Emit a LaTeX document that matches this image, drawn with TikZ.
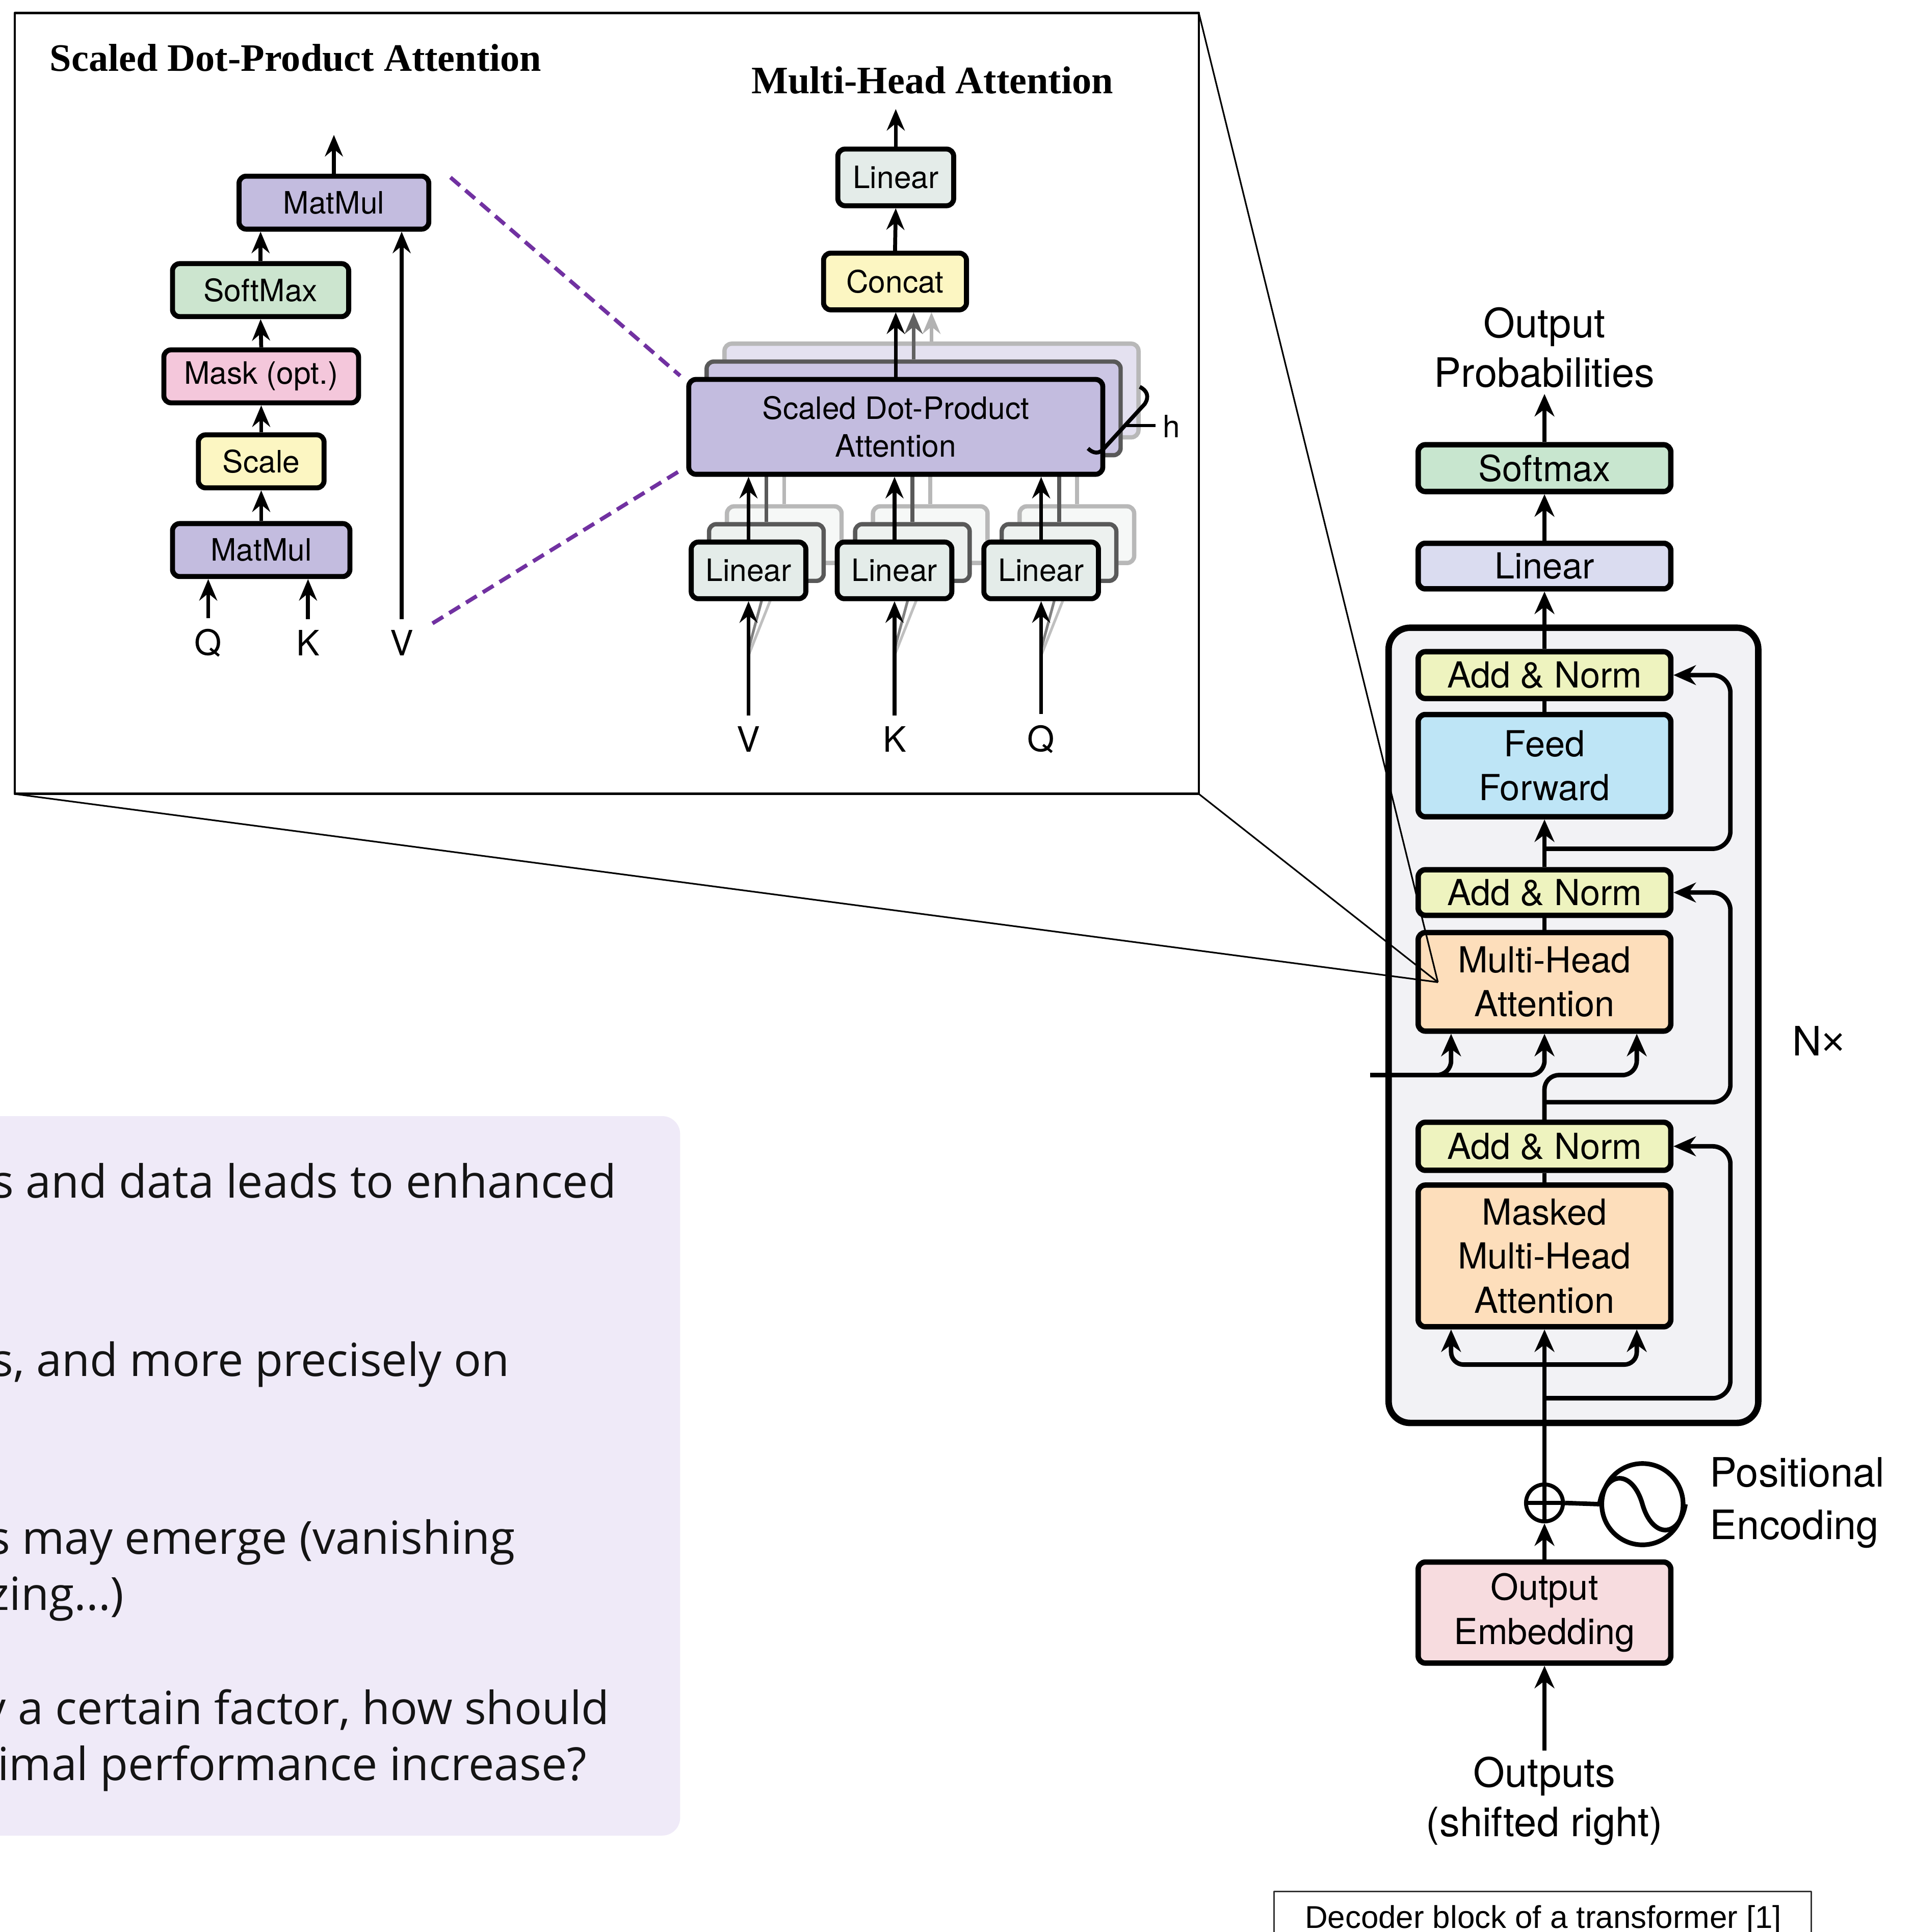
\documentclass[tikz,border=0pt]{standalone}
\usepackage{fontspec}
\setmainfont{TeX Gyre Heros}
\newfontfamily\ttlfam{Liberation Serif}
\newfontfamily\bodyfam{Open Sans}
\newfontfamily\capfam{Liberation Sans}
\usetikzlibrary{arrows.meta,calc}

% one drawing unit
\newcommand\sunit{0.024173cm}
% type sizes
\newcommand\fntA{\fontsize{17.2pt}{21pt}\selectfont}
\newcommand\fntB{\fontsize{20pt}{24.6pt}\selectfont}
\newcommand\fntC{\fontsize{22.6pt}{27.7pt}\selectfont}
\newcommand\fntQ{\fontsize{19.5pt}{23pt}\selectfont}
\newcommand\fntT{\ttlfam\bfseries\fontsize{21.7pt}{26pt}\selectfont}
\newcommand\fntP{\bodyfam\fontsize{25.5pt}{31pt}\selectfont}
\newcommand\fntCap{\capfam\fontsize{17.6pt}{21pt}\selectfont}

\definecolor{cMat}{HTML}{C3BCDF}
\definecolor{cMatM}{HTML}{CCC6E4}
\definecolor{cMatB}{HTML}{E4E1F0}
\definecolor{cSoft}{HTML}{CCE5CF}
\definecolor{cMask}{HTML}{F4C7DB}
\definecolor{cScale}{HTML}{FCF6C2}
\definecolor{cLinA}{HTML}{E4ECE9}
\definecolor{cLinM}{HTML}{EDF1EF}
\definecolor{cLinB}{HTML}{F6F8F7}
\definecolor{cSoftD}{HTML}{C8E6CF}
\definecolor{cLinD}{HTML}{DADCF0}
\definecolor{cAdd}{HTML}{EEF3BF}
\definecolor{cFF}{HTML}{BEE5F6}
\definecolor{cMHA}{HTML}{FDDEBB}
\definecolor{cEmb}{HTML}{F7DCDF}
\definecolor{cBlk}{HTML}{F2F2F5}
\definecolor{cPanel}{HTML}{EFEAF8}
\definecolor{cDash}{HTML}{7131A1}

\tikzset{
  sbox/.style={draw=black, rounded corners=4pt, line width=2.8pt, inner sep=0pt, align=center, font=\fntA},
  dbox/.style={draw=black, rounded corners=4pt, line width=3pt, inner sep=0pt, align=center, font=\fntB, minimum width=205*\sunit},
  ghostM/.style={draw=black!65, rounded corners=4pt, line width=2.4pt, inner sep=0pt},
  ghostB/.style={draw=black!28, rounded corners=4pt, line width=2.4pt, inner sep=0pt},
  aarr/.style={line width=2.2pt, -{Stealth[length=12pt,width=10pt,inset=4pt]}},
  darr/.style={line width=2.5pt, -{Stealth[length=12.5pt,width=11pt,inset=4pt]}},
  dline/.style={line width=2.5pt},
  zoomln/.style={line width=0.9pt},
  lbl/.style={font=\fntQ, inner sep=6pt},
}

\begin{document}
\begin{tikzpicture}[x=\sunit, y=-\sunit, line join=round]
\useasboundingbox (0,0) rectangle (1553,1568.3);
\fill[white] (0,0) rectangle (1553,1568.3);

% ---------- question panel ----------
\node[fill=cPanel, rounded corners=10pt, minimum width=592*\sunit, minimum height=584*\sunit, inner sep=0] (qpanel) at (256,1198) {};
\begin{scope}[every node/.style={font=\fntP, anchor=base east, inner sep=0pt, text=black!92}]
\node (q1) at (500.5,972.5) {s and data leads to enhanced};
\node (q2) at (413.7,1117) {s, and more precisely on};
\node (q3) at (418.5,1261.4) {s may emerge (vanishing};
\node (q4) at (101,1306.9) {zing...)};
\node (q5) at (495,1399.9) {y a certain factor, how should};
\node (q6) at (476.5,1445.4) {imal performance increase?};
\end{scope}

% ---------- zoom frame ----------
\node[draw, line width=1.4pt, minimum width=961*\sunit, minimum height=633.8*\sunit, inner sep=0, outer sep=0] (zf) at (492.5,327.6) {};

% ---------- scaled dot-product attention ----------
\node[font=\fntT] (t1) at (240,47) {Scaled Dot-Product Attention};
\node[sbox, fill=cMat, minimum width=154*\sunit, minimum height=43*\sunit] (mmTop) at (271,164.5) {MatMul};
\node[sbox, fill=cSoft, minimum width=143*\sunit, minimum height=43*\sunit] (smx) at (211.5,235.5) {SoftMax};
\node[sbox, fill=cMask, minimum width=158*\sunit, minimum height=43*\sunit] (msk) at (212,305.5) {Mask (opt.)};
\node[sbox, fill=cScale, minimum width=102*\sunit, minimum height=43*\sunit] (scl) at (212,374.5) {Scale};
\node[sbox, fill=cMat, minimum width=144*\sunit, minimum height=43*\sunit] (mmBot) at (212,446.5) {MatMul};
\node[lbl] (lq) at (169,522) {Q};
\node[lbl] (lk) at (250,522) {K};
\node[lbl] (lv) at (326,522) {V};
\coordinate (sdOut) at (271,109.5);
\draw[aarr] (mmTop.north) -- (sdOut);
\draw[aarr] (smx.north) -- (smx.north |- mmTop.south);
\draw[aarr] (msk.north) -- (smx.south);
\draw[aarr] (scl.north) -- (msk.south);
\draw[aarr] (mmBot.north) -- (scl.south);
\draw[aarr] (lq.north) -- (lq.north |- mmBot.south);
\draw[aarr] (lk.north) -- (lk.north |- mmBot.south);
\draw[aarr] (lv.north) -- (lv.north |- mmTop.south);

% ---------- multi-head attention ----------
\node[font=\fntT] (t2) at (756.7,65) {Multi-Head Attention};
\node[sbox, fill=cLinA, minimum width=94*\sunit, minimum height=46*\sunit] (mhLin) at (727,144) {Linear};
\node[sbox, fill=cScale, minimum width=116*\sunit, minimum height=46*\sunit] (cct) at (726.4,228.5) {Concat};

% back copies
\node[ghostB, fill=cMatB, minimum width=336*\sunit, minimum height=76*\sunit] (sdB) at (756,317) {};
\foreach \c/\n in {607.5/V,726/K,845/Q}{
  \node[ghostB, fill=cLinB, minimum width=93*\sunit, minimum height=46*\sunit] (linB\n) at (\c+29,434) {};
  \draw[black!28, line width=2.2pt] (linB\n.north) -- (linB\n.north |- sdB.south);
}
% middle copies
\node[ghostM, fill=cMatM, minimum width=336*\sunit, minimum height=76*\sunit] (sdM) at (741.5,331.5) {};
\foreach \c/\n in {607.5/V,726/K,845/Q}{
  \node[ghostM, fill=cLinM, minimum width=93*\sunit, minimum height=46*\sunit] (linM\n) at (\c+14.5,448.5) {};
  \draw[black!65, line width=2.2pt] (linM\n.north) -- (linM\n.north |- sdM.south);
}
% front copies
\node[sbox, fill=cMat, minimum width=336*\sunit, minimum height=77*\sunit] (sdpa) at (727,346.5) {Scaled Dot-Product\\Attention};
\foreach \c/\n in {607.5/V,726/K,845/Q}{
  \draw[black!25, line width=1.5pt] (\c,532) -- (linB\n.south);
  \draw[black!50, line width=1.5pt] (\c,527) -- (linM\n.south);
  \node[sbox, fill=cLinA, minimum width=93*\sunit, minimum height=46*\sunit] (lin\n) at (\c,463) {Linear};
  \draw[aarr] (lin\n.north) -- (lin\n.north |- sdpa.south);
  \node[lbl] (in\n) at (\c,600) {\n};
  \draw[aarr] (in\n.north) -- (lin\n.south);
}
\draw[aarr, black!30] (sdB.north) -- (sdB.north |- cct.south);
\draw[aarr, black!62] (sdM.north) -- (sdM.north |- cct.south);
\draw[aarr] (sdpa.north) -- (sdpa.north |- cct.south);
\draw[aarr] (cct.north) -- (mhLin.south);
\coordinate (mhOut) at (727,88.5);
\draw[aarr] (mhLin.north) -- (mhOut);

% head count brace
\draw[line width=2.2pt] (925,314) .. controls (931,317) and (933,322) .. (929,328) -- (896,364) .. controls (892,369) and (887,368) .. (883,364);
\draw[line width=1.6pt] (913,345.5) -- (938,345.5);
\node[font=\fntA, anchor=west, inner sep=1pt] (hlab) at (942,346) {h};

% dashed zoom hint
\coordinate (dA1) at (365.6,144);
\coordinate (dA2) at (552,305);
\coordinate (dB1) at (351,506);
\coordinate (dB2) at (552,382);
\draw[cDash, line width=2.2pt, dash pattern=on 7pt off 4pt] (dA1) -- (dA2);
\draw[cDash, line width=2.2pt, dash pattern=on 7pt off 4pt] (dB1) -- (dB2);

% ---------- decoder ----------
\node[draw, line width=3.6pt, rounded corners=12pt, fill=cBlk, minimum width=300*\sunit, minimum height=645.5*\sunit, inner sep=0] (nblk) at (1277,832.3) {};
\node[dbox, fill=cSoftD, minimum height=38*\sunit] (dsm) at (1253.5,380) {Softmax};
\node[dbox, fill=cLinD, minimum height=37*\sunit] (dlin) at (1253.5,459.5) {Linear};
\node[dbox, fill=cAdd, minimum height=38*\sunit] (an1) at (1253.5,548) {Add \& Norm};
\node[dbox, fill=cFF, minimum height=83*\sunit] (ff) at (1253.5,621.5) {Feed\\Forward};
\node[dbox, fill=cAdd, minimum height=37*\sunit] (an2) at (1253.5,724.5) {Add \& Norm};
\node[dbox, fill=cMHA, minimum height=80*\sunit] (mha) at (1253.5,797) {Multi-Head\\Attention};
\node[dbox, fill=cAdd, minimum height=39*\sunit] (an3) at (1253.5,930.5) {Add \& Norm};
\node[dbox, fill=cMHA, minimum height=115*\sunit] (mmha) at (1253.5,1019.5) {Masked\\Multi-Head\\Attention};
\node[dbox, fill=cEmb, minimum height=82*\sunit] (emb) at (1253.5,1309) {Output\\Embedding};
\node[draw, circle, line width=2.2pt, minimum size=30*\sunit, inner sep=0] (op) at (1253.5,1220) {};
\draw[line width=2.2pt] (op.north) -- (op.south) (op.west) -- (op.east);
\node[draw, circle, line width=2.6pt, minimum size=66*\sunit, inner sep=0] (pe) at (1333,1221) {};
\draw[line width=2.6pt] (pe.west) .. controls ($(pe.center)+(-30,-28)$) and ($(pe.center)+(-8,-28)$) .. (pe.center)
  .. controls ($(pe.center)+(8,28)$) and ($(pe.center)+(30,28)$) .. (pe.east);

\node[font=\fntC, align=center] (oprob) at (1253.5,282) {Output\\Probabilities};
\node[font=\fntC, align=center] (outs) at (1253.5,1462) {Outputs\\(shifted right)};
\node[font={\fontsize{22.6pt}{29.3pt}\selectfont}, align=left, anchor=west, inner sep=0pt] (posl) at (1387.6,1220) {Positional\\Encoding};
\node[font=\fntC] (nx) at (1476,845) {N{\capfam ×}};

\draw[darr] (dsm.north) -- (oprob.south);
\draw[darr] (dlin.north) -- (dsm.south);
\draw[darr] (an1.north) -- (dlin.south);
\draw[dline] (an1.south) -- (ff.north);
\draw[darr] (an2.north) -- (ff.south);
\coordinate (r1) at (1253.5,689);
\draw[darr, rounded corners=10pt] (r1) -- (1404.4,689) -- (1404.4,548) -- (an1.east);
\draw[dline] (an2.south) -- (mha.north);
\coordinate (encin) at (1112,872.7);
\draw[darr, rounded corners=8pt] (encin) -- (1177.7,872.7) -- ($(mha.south)+(-75.8,0)$);
\draw[darr, rounded corners=8pt] (encin) -- (1253.5,872.7) -- (mha.south);
\draw[darr, rounded corners=8pt] (an3.north) -- (1253.5,872.7) -- (1328.4,872.7) -- ($(mha.south)+(74.9,0)$);
\coordinate (r2) at (1253.5,894.7);
\draw[darr, rounded corners=10pt] (r2) -- (1404.4,894.7) -- (1404.4,724.5) -- (an2.east);
\draw[dline] (an3.south) -- (mmha.north);
\coordinate (mbr) at (1253.5,1107.7);
\draw[darr, rounded corners=7pt] (mbr) -- (1177.7,1107.7) -- ($(mmha.south)+(-75.8,0)$);
\draw[darr, rounded corners=7pt] (mbr) -- (1328.4,1107.7) -- ($(mmha.south)+(74.9,0)$);
\coordinate (r3) at (1253.5,1135);
\draw[darr, rounded corners=10pt] (r3) -- (1404.4,1135) -- (1404.4,930.5) -- (an3.east);
\draw[darr] (op.north) -- (mmha.south);
\draw[darr] (emb.north) -- (op.south);
\draw[dline] (op.east) -- (pe.west);
\draw[darr] (outs.north) -- (emb.south);

% caption
\draw[black!80, line width=0.8pt] (1034,1535.5) rectangle (1470,1600);
\node[font=\fntCap, anchor=base, inner sep=0pt] (cap) at (1252.5,1565) {Decoder block of a transformer [1]};

% zoom connectors
\coordinate (P) at (1167,797.3);
\draw[zoomln] (zf.north east) -- (P);
\draw[zoomln] (zf.south east) -- (P);
\draw[zoomln] (zf.south west) -- (P);
\end{tikzpicture}
\end{document}
